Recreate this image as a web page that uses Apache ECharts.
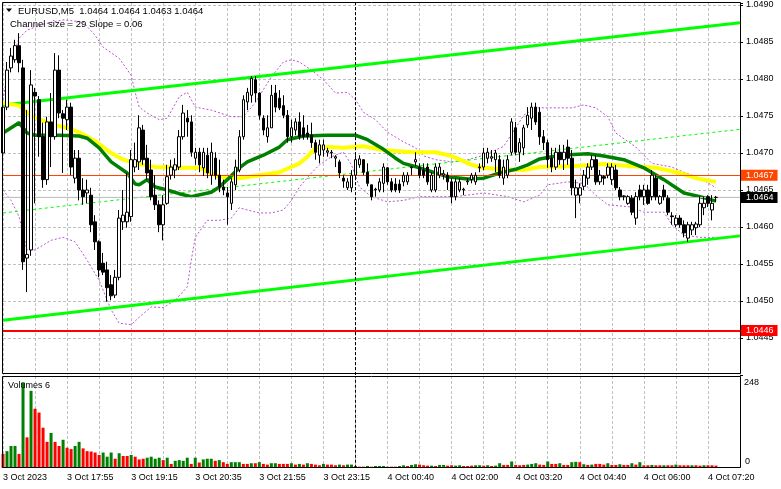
<!DOCTYPE html>
<html><head><meta charset="utf-8">
<script src="https://cdn.jsdelivr.net/npm/echarts@6/dist/echarts.min.js"></script>
<style>html,body{margin:0;padding:0;background:#fff}#c{width:781px;height:489px}</style>
</head><body><div id="c"></div><script>
const FONT = '"Liberation Sans", Arial, sans-serif';
const tickLabels = ['3 Oct 2023','3 Oct 17:55','3 Oct 19:15','3 Oct 20:35','3 Oct 21:55','3 Oct 23:15','4 Oct 00:40','4 Oct 02:00','4 Oct 03:20','4 Oct 04:40','4 Oct 06:00','4 Oct 07:20'];
const opens = [1.04700,1.04762,1.04815,1.04826,1.04845,1.04815,1.04558,1.04569,1.04782,1.04772,1.04722,1.04664,1.04742,1.04722,1.04812,1.04753,1.04745,1.04762,1.04666,1.04693,
1.04650,1.04646,1.04643,1.04607,1.04580,1.04551,1.04542,1.04522,1.04508,1.04532,1.04607,1.04607,1.04614,1.04681,1.04688,1.04731,1.04693,1.04677,1.04643,1.04630,
1.04603,1.04632,1.04670,1.04677,1.04681,1.04722,1.04747,1.04742,1.04693,1.04701,1.04680,1.04697,1.04670,1.04693,1.04670,1.04654,1.04646,1.04632,1.04657,1.04677,
1.04722,1.04769,1.04778,1.04799,1.04781,1.04747,1.04722,1.04734,1.04781,1.04774,1.04764,1.04751,1.04722,1.04731,1.04742,1.04734,1.04727,1.04724,1.04714,1.04697,
1.04704,1.04701,1.04700,1.04693,1.04688,1.04666,1.04653,1.04653,1.04670,1.04684,1.04691,1.04674,1.04657,1.04650,1.04650,1.04659,1.04680,1.04661,1.04658,1.04658,
1.04661,1.04661,1.04680,1.04688,1.04681,1.04677,1.04681,1.04650,1.04650,1.04670,1.04670,1.04670,1.04661,1.04641,1.04650,1.04650,1.04661,1.04664,1.04661,1.04680,
1.04681,1.04693,1.04693,1.04691,1.04691,1.04666,1.04670,1.04701,1.04734,1.04701,1.04707,1.04738,1.04747,1.04762,1.04755,1.04722,1.04714,1.04693,1.04681,1.04701,
1.04691,1.04708,1.04693,1.04643,1.04643,1.04655,1.04666,1.04681,1.04691,1.04661,1.04668,1.04670,1.04664,1.04677,1.04650,1.04641,1.04632,1.04639,1.04612,1.04650,
1.04641,1.04650,1.04641,1.04666,1.04632,1.04650,1.04639,1.04615,1.04603,1.04612,1.04603,1.04585,1.04596,1.04599,1.04603,1.04626,1.04641,1.04623,1.04640];
const closes = [1.04762,1.04812,1.04831,1.04845,1.04822,1.04553,1.04563,1.04792,1.04777,1.04722,1.04664,1.04742,1.04722,1.04812,1.04754,1.04747,1.04762,1.04681,1.04693,1.04650,
1.04641,1.04650,1.04603,1.04580,1.04542,1.04539,1.04518,1.04507,1.04532,1.04612,1.04616,1.04620,1.04691,1.04691,1.04734,1.04691,1.04673,1.04641,1.04630,1.04603,
1.04630,1.04668,1.04681,1.04684,1.04722,1.04754,1.04742,1.04701,1.04701,1.04684,1.04701,1.04673,1.04701,1.04670,1.04654,1.04650,1.04641,1.04661,1.04681,1.04722,
1.04772,1.04782,1.04801,1.04781,1.04751,1.04731,1.04734,1.04778,1.04762,1.04761,1.04751,1.04722,1.04734,1.04742,1.04722,1.04722,1.04722,1.04714,1.04701,1.04711,
1.04711,1.04703,1.04701,1.04695,1.04673,1.04662,1.04661,1.04670,1.04691,1.04692,1.04674,1.04659,1.04641,1.04651,1.04661,1.04681,1.04661,1.04650,1.04650,1.04650,
1.04670,1.04670,1.04681,1.04691,1.04670,1.04670,1.04661,1.04670,1.04681,1.04681,1.04672,1.04661,1.04641,1.04661,1.04661,1.04651,1.04662,1.04670,1.04670,1.04681,
1.04700,1.04701,1.04695,1.04700,1.04670,1.04681,1.04691,1.04742,1.04701,1.04714,1.04734,1.04751,1.04762,1.04742,1.04722,1.04714,1.04691,1.04681,1.04701,1.04691,
1.04701,1.04693,1.04653,1.04653,1.04653,1.04670,1.04681,1.04691,1.04661,1.04670,1.04666,1.04681,1.04681,1.04653,1.04641,1.04642,1.04641,1.04620,1.04641,1.04641,
1.04650,1.04632,1.04670,1.04641,1.04641,1.04641,1.04620,1.04614,1.04612,1.04603,1.04592,1.04603,1.04603,1.04604,1.04632,1.04632,1.04632,1.04632,1.04640];
const lows = [1.04691,1.04758,1.04809,1.04822,1.04809,1.04542,1.04512,1.04561,1.04632,1.04695,1.04653,1.04657,1.04681,1.04718,1.04747,1.04673,1.04731,1.04670,1.04659,1.04636,
1.04630,1.04632,1.04593,1.04569,1.04532,1.04535,1.04499,1.04501,1.04504,1.04528,1.04596,1.04599,1.04607,1.04674,1.04677,1.04684,1.04664,1.04636,1.04623,1.04593,
1.04582,1.04630,1.04664,1.04666,1.04677,1.04718,1.04722,1.04695,1.04684,1.04674,1.04669,1.04666,1.04657,1.04664,1.04647,1.04643,1.04603,1.04623,1.04650,1.04674,
1.04718,1.04758,1.04768,1.04769,1.04745,1.04724,1.04714,1.04734,1.04755,1.04758,1.04747,1.04714,1.04714,1.04724,1.04718,1.04718,1.04718,1.04707,1.04691,1.04686,
1.04695,1.04695,1.04693,1.04681,1.04666,1.04653,1.04650,1.04647,1.04666,1.04680,1.04670,1.04655,1.04636,1.04641,1.04647,1.04647,1.04657,1.04647,1.04647,1.04646,
1.04655,1.04657,1.04670,1.04682,1.04666,1.04666,1.04657,1.04647,1.04647,1.04666,1.04664,1.04650,1.04632,1.04636,1.04647,1.04643,1.04657,1.04659,1.04657,1.04674,
1.04677,1.04686,1.04688,1.04674,1.04666,1.04657,1.04666,1.04697,1.04697,1.04688,1.04697,1.04734,1.04731,1.04738,1.04711,1.04704,1.04680,1.04674,1.04677,1.04684,
1.04677,1.04684,1.04643,1.04612,1.04632,1.04650,1.04657,1.04677,1.04657,1.04657,1.04657,1.04666,1.04657,1.04650,1.04636,1.04636,1.04630,1.04616,1.04603,1.04636,
1.04630,1.04630,1.04636,1.04636,1.04630,1.04636,1.04616,1.04603,1.04600,1.04599,1.04586,1.04580,1.04589,1.04589,1.04600,1.04616,1.04627,1.04609,1.04634];
const highs = [1.04772,1.04823,1.04842,1.04853,1.04862,1.04826,1.04758,1.04812,1.04788,1.04777,1.04741,1.04749,1.04781,1.04835,1.04832,1.04758,1.04772,1.04768,1.04704,1.04704,
1.04666,1.04664,1.04653,1.04616,1.04582,1.04565,1.04553,1.04535,1.04542,1.04623,1.04650,1.04673,1.04704,1.04714,1.04751,1.04738,1.04711,1.04691,1.04670,1.04636,
1.04643,1.04684,1.04691,1.04693,1.04731,1.04765,1.04758,1.04751,1.04707,1.04707,1.04707,1.04707,1.04714,1.04701,1.04691,1.04664,1.04654,1.04666,1.04691,1.04731,
1.04778,1.04788,1.04804,1.04804,1.04782,1.04751,1.04751,1.04792,1.04792,1.04785,1.04778,1.04758,1.04745,1.04747,1.04755,1.04751,1.04738,1.04741,1.04718,1.04718,
1.04718,1.04707,1.04704,1.04697,1.04691,1.04670,1.04666,1.04677,1.04697,1.04697,1.04691,1.04686,1.04657,1.04653,1.04666,1.04686,1.04681,1.04666,1.04666,1.04664,
1.04674,1.04674,1.04682,1.04701,1.04686,1.04686,1.04686,1.04674,1.04686,1.04686,1.04677,1.04674,1.04666,1.04666,1.04666,1.04653,1.04666,1.04673,1.04674,1.04686,
1.04707,1.04707,1.04704,1.04704,1.04697,1.04691,1.04697,1.04747,1.04742,1.04720,1.04738,1.04762,1.04768,1.04768,1.04762,1.04731,1.04718,1.04707,1.04707,1.04711,
1.04711,1.04718,1.04704,1.04664,1.04659,1.04677,1.04686,1.04697,1.04697,1.04677,1.04670,1.04686,1.04686,1.04684,1.04654,1.04643,1.04643,1.04643,1.04647,1.04657,
1.04657,1.04657,1.04677,1.04670,1.04643,1.04657,1.04643,1.04620,1.04616,1.04616,1.04609,1.04607,1.04607,1.04607,1.04641,1.04641,1.04643,1.04643,1.04642];
const volumes = [40,48,63,63,40,248,88,223,171,160,116,75,101,75,63,81,58,54,63,75,
56,48,47,44,37,44,32,44,26,42,34,34,37,32,24,26,29,32,26,29,
22,29,11,20,22,20,29,11,29,15,24,26,26,20,22,16,11,16,16,16,
11,11,13,13,16,11,9,13,13,11,11,11,13,9,11,9,13,11,9,7,
11,9,9,7,9,7,9,9,5,3,3,5,3,5,5,5,3,3,3,5,
7,5,8,10,9,7,6,6,5,8,8,6,7,6,7,5,5,6,7,7,
6,7,5,6,13,8,8,18,8,7,8,9,11,13,9,8,18,11,11,13,
8,8,16,17,16,10,8,9,11,11,9,13,8,8,10,8,8,13,9,16,
7,7,8,7,7,7,7,7,9,7,7,7,7,7,6,7,7,7,6];
const volumeDir = 'rgggrgrgrrrrgrrgrrgg' + 'rrrrrgggrgrrgrrrgggg' + 'rgrggggrgrgggrgrrggg' + 'rrgrgrrggrrrgrgrgrrr' + 'grrrgrggrrrgrgggrrrg' +
  'grggrrrgrggrrggrrrgg' + 'rgrggrrgrrrgggrrgrrg' + 'rrggrgrgrrrgrrgrrgrg' + 'rrgrrgrrgrrrgrrgrrr';
const maYellow = [[0,1.04768],[4,1.04764],[7,1.04750],[12,1.04739],[16,1.04734],[19,1.04728],[23,1.04716],[27,1.04700],[30,1.04691],[34,1.04685],[38,1.04681],[44,1.04680],[49,1.04680],[54,1.04668],[59,1.04666],[64,1.04670],[69,1.04674],[74,1.04686],[76,1.04695],[78,1.04707],[81,1.04708],[85,1.04707],[90,1.04709],[95,1.04704],[102,1.04701],[108,1.04701],[112,1.04696],[114,1.04691],[117,1.04684],[120,1.04680],[124,1.04678],[130,1.04677],[134,1.04681],[142,1.04682],[150,1.04685],[157,1.04682],[163,1.04680],[169,1.04673],[173,1.04666],[178,1.04661]];
const maGreen = [[0,1.04727],[4,1.04741],[6,1.04727],[8,1.04724],[14,1.04724],[19,1.04723],[21,1.04720],[24,1.04707],[27,1.04688],[31,1.04673],[33,1.04658],[34,1.04657],[36,1.04664],[38,1.04654],[41,1.04650],[44,1.04645],[47,1.04641],[52,1.04647],[54,1.04654],[56,1.04664],[59,1.04680],[61,1.04688],[65,1.04697],[69,1.04708],[71,1.04718],[75,1.04723],[81,1.04724],[88,1.04724],[91,1.04718],[95,1.04705],[98,1.04693],[100,1.04686],[104,1.04680],[108,1.04673],[111,1.04668],[116,1.04665],[120,1.04666],[124,1.04673],[128,1.04678],[131,1.04684],[134,1.04692],[139,1.04697],[146,1.04699],[150,1.04696],[155,1.04691],[160,1.04680],[165,1.04664],[170,1.04646],[174,1.04641],[178,1.04635]];
const bandUpper = [[0,1.04772],[1,1.04805],[4,1.04855],[6,1.04866],[10,1.04874],[15,1.04880],[20,1.04877],[23,1.04859],[25,1.04843],[29,1.04828],[32,1.04805],[33,1.04782],[34,1.04762],[36,1.04754],[39,1.04745],[41,1.04747],[44,1.04776],[46,1.04782],[48,1.04762],[52,1.04758],[57,1.04749],[60,1.04749],[63,1.04768],[67,1.04803],[70,1.04823],[72,1.04826],[74,1.04823],[77,1.04812],[80,1.04799],[83,1.04781],[86,1.04782],[88,1.04772],[90,1.04755],[93,1.04745],[96,1.04728],[100,1.04715],[103,1.04707],[105,1.04696],[108,1.04691],[112,1.04688],[116,1.04691],[120,1.04697],[125,1.04709],[128,1.04734],[130,1.04751],[133,1.04761],[142,1.04761],[145,1.04765],[148,1.04761],[151,1.04749],[153,1.04727],[158,1.04708],[160,1.04697],[162,1.04686],[167,1.04681],[170,1.04674],[174,1.04666],[178,1.04653]];
const bandLower = [[0,1.04650],[2,1.04636],[4,1.04614],[6,1.04569],[8,1.04569],[12,1.04582],[15,1.04586],[18,1.04580],[21,1.04555],[24,1.04528],[27,1.04488],[29,1.04470],[32,1.04468],[34,1.04478],[37,1.04492],[40,1.04491],[43,1.04501],[46,1.04519],[47,1.04555],[48,1.04586],[51,1.04609],[54,1.04609],[57,1.04612],[59,1.04626],[61,1.04623],[64,1.04619],[67,1.04619],[70,1.04623],[72,1.04636],[74,1.04654],[77,1.04673],[79,1.04684],[82,1.04695],[85,1.04701],[87,1.04684],[89,1.04654],[92,1.04641],[96,1.04634],[100,1.04636],[104,1.04641],[113,1.04641],[120,1.04646],[126,1.04641],[130,1.04634],[134,1.04643],[136,1.04657],[141,1.04661],[145,1.04659],[148,1.04643],[151,1.04630],[157,1.04627],[160,1.04620],[165,1.04620],[167,1.04603],[170,1.04589],[174,1.04586],[178,1.04586]];
const channelUpper = [[0,1.04765],[184,1.04876]];
const channelMiddle = [[0,1.04619],[184,1.04732]];
const channelLower = [[0,1.04474],[184,1.04588]];
const levelSupport = 1.0446;
const levelResist = 1.0467;
const bidPrice = 1.0464;
const separatorIndex = 88;
const volumeMaxLabel = 248;

const N = 185;
const cats = Array.from({length: N}, (_, i) => String(i));
const last = closes.length - 1;
const candleData = opens.map((o, i) => [o, closes[i], lows[i], highs[i]]);
const volData = volumes.map((v, i) => ({value: v, itemStyle: {color: volumeDir[i] === 'g' ? '#008000' : '#ff0000'}}));
const gridLine = {show: true, lineStyle: {color: '#c0c0c0', type: [3, 2], width: 1}};
const vSplit = Object.assign({}, gridLine, {interval: (i) => i % 8 === 0});
const boxLabel = (bg, val) => ({show: true, position: 'end', distance: 1, color: '#fff', backgroundColor: bg,
  padding: [1, 4, 0, 5], fontSize: 9, lineHeight: 10, fontFamily: FONT, formatter: val.toFixed(4)});
const lineS = (data, color, width, type, z) => ({type: 'line', xAxisIndex: 0, yAxisIndex: 0, data, symbol: 'none',
  silent: true, z: z || 2, lineStyle: {color, width, type: type || 'solid'}});

const levelSeries = {type: 'line', xAxisIndex: 0, yAxisIndex: 0, data: [[0, bidPrice], [184, bidPrice]], symbol: 'none', silent: true, z: 1,
  lineStyle: {color: '#c0c0c0', width: 1},
  markLine: {symbol: 'none', silent: true, animation: false, precision: 4,
    data: [
      {yAxis: bidPrice, lineStyle: {color: '#c0c0c0', width: 1, type: 'solid'}, label: boxLabel('#000000', bidPrice)},
      {yAxis: levelResist, lineStyle: {color: '#ff4500', width: 1, type: 'solid'}, label: boxLabel('#ff4500', levelResist)},
      {yAxis: levelSupport, lineStyle: {color: '#ff0000', width: 2, type: 'solid'}, label: boxLabel('#ff0000', levelSupport)}
    ]}};

const chart = echarts.init(document.getElementById('c'));
chart.setOption({
  animation: false,
  backgroundColor: '#ffffff',
  grid: [
    {left: 3, top: 3, width: 737, height: 372},
    {left: 3, top: 376, width: 737, height: 91.7}
  ],
  xAxis: [
    {type: 'category', gridIndex: 0, data: cats, boundaryGap: false, axisLine: {show: false}, axisTick: {show: false}, axisLabel: {show: false}, splitLine: vSplit},
    {type: 'category', gridIndex: 1, data: cats, boundaryGap: false, axisLine: {show: false}, axisTick: {show: false},
      axisLabel: {show: true, interval: 15, align: 'left', margin: 5, fontSize: 9, fontFamily: FONT, color: '#000',
        formatter: (v, i) => tickLabels[i / 16] || ''}, splitLine: vSplit}
  ],
  yAxis: [
    {type: 'value', gridIndex: 0, position: 'right', min: 1.0440, max: 1.049027, interval: 0.0005, scale: true,
      axisLine: {show: false}, axisTick: {show: true, length: 3, lineStyle: {color: '#000'}},
      axisLabel: {margin: 6, fontSize: 9, fontFamily: FONT, color: '#000',
        formatter: (v) => (Math.abs(v * 2000 - Math.round(v * 2000)) < 1e-4 && v > 1.04401) ? v.toFixed(4) : ''},
      splitLine: Object.assign({}, gridLine, {showMinLine: false, showMaxLine: false})},
    {type: 'value', gridIndex: 1, position: 'right', min: 0, max: 266, axisLine: {show: false}, axisTick: {show: false}, axisLabel: {show: false}, splitLine: {show: false}}
  ],
  series: [
    levelSeries,
    lineS(bandUpper, '#ba55d3', 1, [2, 2]),
    lineS(bandLower, '#ba55d3', 1, [2, 2]),
    lineS(channelMiddle, '#00ff00', 1, [3, 3]),
    lineS(channelUpper, '#00ff00', 3),
    lineS(channelLower, '#00ff00', 3),
    lineS(maYellow, '#ffff00', 4, 'solid', 3),
    lineS(maGreen, '#008000', 3.5, 'solid', 3),
    {type: 'candlestick', xAxisIndex: 0, yAxisIndex: 0, data: candleData, barWidth: 3, clip: false, z: 5, silent: true,
      itemStyle: {color: '#ffffff', color0: '#000000', borderColor: '#000000', borderColor0: '#000000', borderColorDoji: '#000000', borderWidth: 1},
      markLine: {symbol: 'none', silent: true, animation: false,
        data: [{xAxis: separatorIndex, lineStyle: {color: '#000000', width: 1, type: [3, 2]}, label: {show: false}}]}},
    {type: 'bar', xAxisIndex: 1, yAxisIndex: 1, data: volData, barWidth: 3, clip: false, silent: true,
      markLine: {symbol: 'none', silent: true, animation: false,
        data: [{xAxis: separatorIndex, lineStyle: {color: '#000000', width: 1, type: [3, 2]}, label: {show: false}}]}}
  ],
  graphic: [
    {type: 'rect', silent: true, z: 100, shape: {x: 2.5, y: 2.5, width: 738, height: 371}, style: {fill: 'none', stroke: '#000', lineWidth: 1}},
    {type: 'rect', silent: true, z: 100, shape: {x: 2.5, y: 376.5, width: 738, height: 91}, style: {fill: 'none', stroke: '#000', lineWidth: 1}},
    {type: 'polygon', silent: true, z: 100, shape: {points: [[6, 8.5], [12, 8.5], [9, 12]]}, style: {fill: '#000'}},
    {type: 'text', silent: true, z: 100, x: 18, y: 11, style: {text: 'EURUSD,M5  ' + [opens[last], highs[last], lows[last], closes[last]].map(v => v.toFixed(4)).join(' '),
      font: '9.5px ' + FONT, fill: '#000', verticalAlign: 'middle'}},
    {type: 'text', silent: true, z: 100, x: 10, y: 24, style: {text: 'Channel size = 29 Slope = 0.06', font: '9.5px ' + FONT, fill: '#000', verticalAlign: 'middle'}},
    {type: 'text', silent: true, z: 100, x: 8, y: 386, style: {text: 'Volumes 6', font: '9px ' + FONT, fill: '#000', verticalAlign: 'middle'}},
    {type: 'text', silent: true, z: 100, x: 744, y: 383, style: {text: String(volumeMaxLabel), font: '9px ' + FONT, fill: '#000', verticalAlign: 'middle'}},
    {type: 'text', silent: true, z: 100, x: 745, y: 462, style: {text: '0', font: '9px ' + FONT, fill: '#000', verticalAlign: 'middle'}}
  ]
});
</script></body></html>
